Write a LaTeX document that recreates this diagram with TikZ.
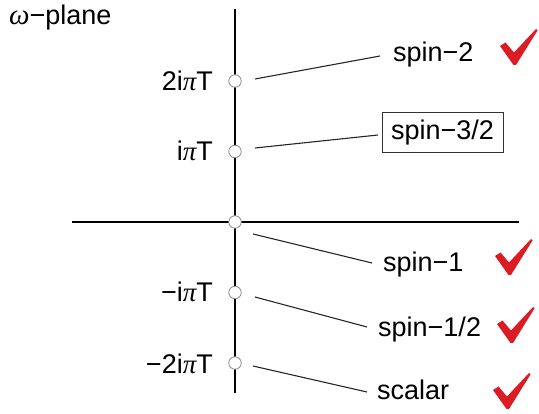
\documentclass[tikz,border=0pt]{standalone}
\usepackage{fontspec}
\setmainfont{Liberation Sans}
\newfontfamily\serifit{Liberation Serif}[ItalicFont=* Italic]
\definecolor{checkred}{RGB}{220,28,36}
\definecolor{circgray}{RGB}{140,140,140}
\begin{document}
\begin{tikzpicture}[x=1pt,y=-1pt,
  lab/.style={inner sep=0pt,font=\fontsize{27}{30}\selectfont},
  axis/.style={line width=2.7pt,black},
  conn/.style={line width=1.1pt,black!85},
  pole/.style={circle,draw=circgray,fill=white,line width=0.8pt,minimum size=12.5pt,inner sep=0pt},
  chk/.pic={\fill[checkred] (0,17) -- (5.5,13.5) -- (14,23.5) -- (36,0) -- (37.5,1.5) -- (16,36) -- (13.5,36) -- cycle;}
]
\useasboundingbox (0,0) rectangle (539,414);
% axes
\coordinate (vt) at (235,9);
\coordinate (vb) at (235,393);
\coordinate (hl) at (72,222);
\coordinate (hr) at (519,222);
\draw[axis] (vt) -- (vb);
\draw[axis] (hl) -- (hr);
% poles
\node[pole] (c2) at (235,81) {};
\node[pole] (c1) at (235,151.5) {};
\node[pole] (c0) at (235,222) {};
\node[pole] (cm1) at (235,292.5) {};
\node[pole] (cm2) at (235,363) {};
% title
\node[lab,anchor=base west] (title) at (9,25) {{\serifit\itshape\fontsize{29}{30}\selectfont ω}−plane};
% left labels
\node[lab,anchor=base east] (t2) at (213,91) {2i{\serifit\itshape π}T};
\node[lab,anchor=base east] (t1) at (213,161) {i{\serifit\itshape π}T};
\node[lab,anchor=base east] (tm1) at (213,302) {−i{\serifit\itshape π}T};
\node[lab,anchor=base east] (tm2) at (213,374) {−2i{\serifit\itshape π}T};
% right labels
\node[lab,anchor=base west] (s2) at (393,62) {spin−2};
\node[lab,draw=black!80,line width=1pt,minimum width=121pt,minimum height=40pt] (s32) at (442.5,133) {spin−3/2};
\node[lab,anchor=base west] (s1) at (383,272) {spin−1};
\node[lab,anchor=base west] (s12) at (378,337) {spin−1/2};
\node[lab,anchor=base west] (s0) at (377,400) {scalar};
% connectors
\coordinate (a2) at (255,79);   \coordinate (b2) at (380,56);
\coordinate (a1) at (255,148);  \coordinate (b1) at (378,135);
\coordinate (a0) at (253,234);  \coordinate (b0) at (372,263);
\coordinate (am1) at (255,297); \coordinate (bm1) at (367,327);
\coordinate (am2) at (253,366); \coordinate (bm2) at (367,392);
\draw[conn] (a2) -- (b2);
\draw[conn] (a1) -- (b1);
\draw[conn] (a0) -- (b0);
\draw[conn] (am1) -- (bm1);
\draw[conn] (am2) -- (bm2);
% checks
\pic at (500,29) {chk};
\pic at (495,239) {chk};
\pic at (497,307) {chk};
\pic at (493,373) {chk};
\end{tikzpicture}
\end{document}
